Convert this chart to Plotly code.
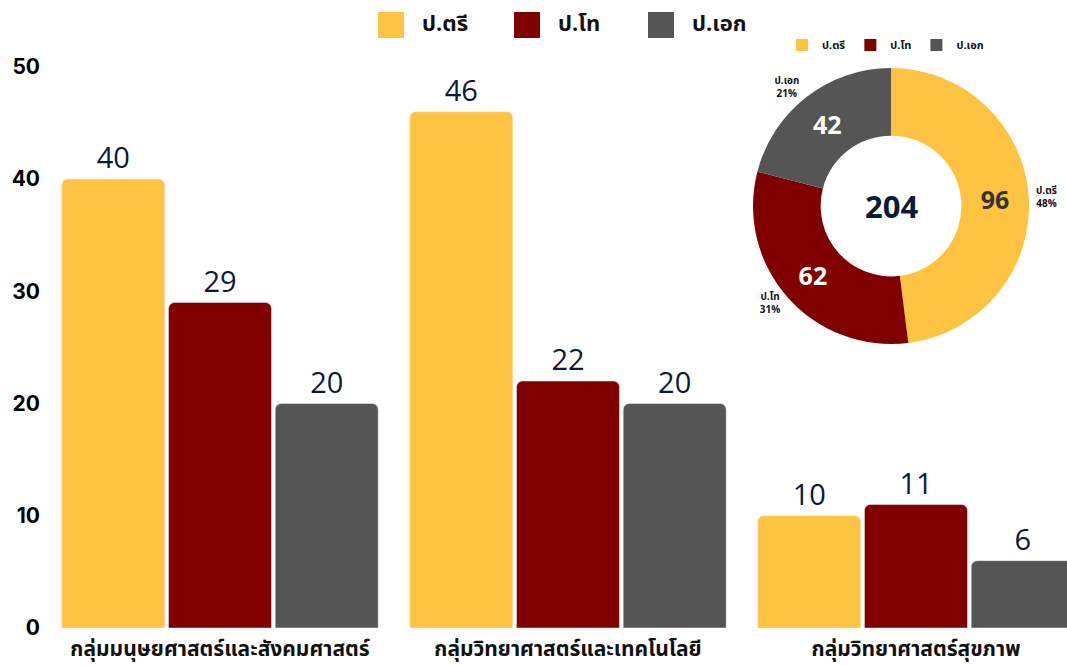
import plotly.graph_objects as go

categories = ["กลุ่มมนุษยศาสตร์และสังคมศาสตร์", "กลุ่มวิทยาศาสตร์และเทคโนโลยี", "กลุ่มวิทยาศาสตร์สุขภาพ"]
series_names = ["ป.ตรี", "ป.โท", "ป.เอก"]
bachelor = [40, 46, 10]
master = [29, 22, 11]
doctoral = [20, 20, 6]
y_ticks = [0, 10, 20, 30, 40, 50]
# donut values as shown in the reference inset
donut_values = [96, 62, 42]

colors = ["#FFC342", "#800000", "#555555"]
series_values = [bachelor, master, doctoral]
grand_total = sum(sum(v) for v in series_values)

THAI = "Noto Sans Thai, Noto Sans, Open Sans, sans-serif"
NUM = "Open Sans, sans-serif"
NAVY = "#0b1a36"
DOM = dict(x=[0.6925, 0.9628], y=[0.4913, 0.9689])

fig = go.Figure()
for name, vals, col in zip(series_names, series_values, colors):
    fig.add_trace(go.Bar(
        x=categories, y=vals, name=name, marker_color=col,
        text=vals, textposition="outside", cliponaxis=False,
        textfont=dict(family=NUM, size=29, color=NAVY),
        showlegend=False,
    ))

# donut (values)
fig.add_trace(go.Pie(
    labels=series_names, values=donut_values, hole=0.51, sort=False,
    direction="clockwise", rotation=0,
    marker=dict(colors=colors),
    textinfo="value", textposition="inside", insidetextorientation="horizontal",
    textfont=dict(family=NUM, size=25, color=["#333333", "white", "white"], weight="bold"),
    domain=DOM, legend="legend2", hoverinfo="label+value+percent",
))
# donut outer labels
fig.add_trace(go.Pie(
    labels=series_names, values=donut_values, hole=0.51, sort=False,
    direction="clockwise", rotation=0,
    marker=dict(colors=["rgba(0,0,0,0)"] * 3),
    texttemplate="%{label}<br>%{percent:.0%}", textposition="outside",
    textfont=dict(family=THAI, size=10, color="#111111", weight="bold"),
    domain=DOM, showlegend=False, hoverinfo="skip", automargin=False,
))

fig.add_annotation(x=0.8277, y=0.7301, xref="paper", yref="paper",
                   xanchor="center", yanchor="middle",
                   text=f"<b>{grand_total}</b>", showarrow=False,
                   font=dict(family=NUM, size=31, color=NAVY))

# main legend (manual, large swatches)
leg_x = [378, 514, 648]
for i, (name, col) in enumerate(zip(series_names, colors)):
    fig.add_shape(type="rect", xref="paper", yref="paper",
                  x0=(leg_x[i] - 46) / 1021, x1=(leg_x[i] + 26 - 46) / 1021,
                  y0=(628 - 38) / 578, y1=(628 - 12) / 578,
                  fillcolor=col, line=dict(width=0), layer="above")
    fig.add_annotation(x=(leg_x[i] + 42 - 46) / 1021, y=(628 - 25) / 578,
                       xref="paper", yref="paper", xanchor="left", yanchor="middle",
                       text=f"<b>{name}</b>", showarrow=False,
                       font=dict(family=THAI, size=22, color="#111111"))

fig.update_layout(
    width=1067, height=666,
    margin=dict(l=46, r=0, t=50, b=38, autoexpand=False),
    paper_bgcolor="white", plot_bgcolor="white",
    barmode="group", bargap=0.08, bargroupgap=0.035, barcornerradius=6,
    legend2=dict(orientation="h", x=0.7209, y=1.0087, xanchor="left", yanchor="middle",
                 font=dict(family=THAI, size=11, color="#111111", weight="bold"),
                 bgcolor="rgba(0,0,0,0)", itemwidth=30, tracegroupgap=0),
    xaxis=dict(range=[-0.5, 2.434], showgrid=False, zeroline=False, showline=False,
               ticks="", tickfont=dict(family=THAI, size=21, color="#111111", weight="bold"),
               ticklabelstandoff=6, automargin=False),
    yaxis=dict(range=[0, 51.5], tickvals=y_ticks, showgrid=False, zeroline=False,
               showline=False, ticks="", automargin=False,
               tickfont=dict(family="Inter, Lato, sans-serif", size=21, color="#000000", weight="bold"),
               ticklabelstandoff=5),
)

fig.write_html("out.html", config={"displayModeBar": False},
               post_script="document.body.style.margin='0';document.body.style.overflow='hidden';")
